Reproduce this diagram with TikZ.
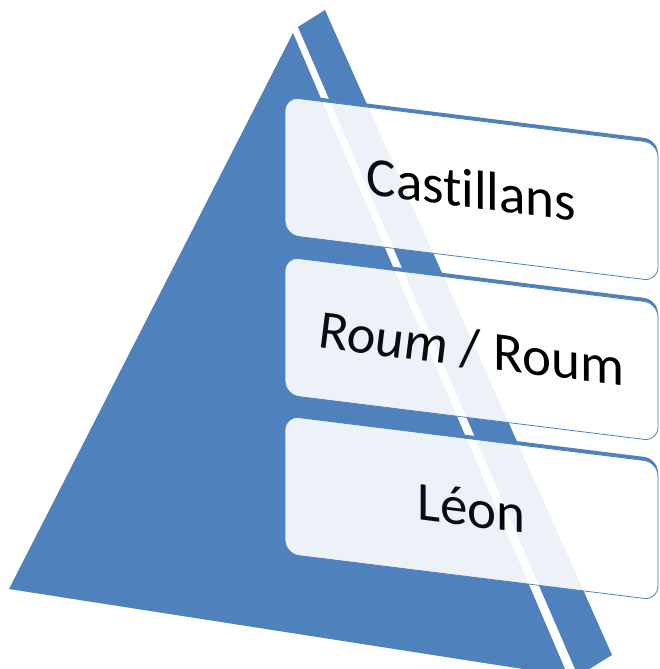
\documentclass[tikz,border=0pt]{standalone}
\usepackage{fontspec}
\setmainfont{Carlito}[Ligatures=NoCommon]
\usetikzlibrary{shadows}
\definecolor{pyrblue}{RGB}{79,129,189}
\def\tierslant{-0.124}
% the two faces of the pyramid
\def\pyramidfaces{%
  \fill[face] (298,27) -- (325,10) -- (612,655) -- (578,676) -- cycle;
  \fill[face] (293,33) -- (9,589) -- (568,676) -- cycle;}

\begin{document}
\begin{tikzpicture}[x=1pt,y=-1pt]
  \tikzstyle{face}=[fill=pyrblue,draw=none]
  \tikzstyle{tier}=[rectangle,rounded corners=14pt,minimum width=373pt,
    minimum height=138pt,inner sep=0pt,fill=white,draw=pyrblue,
    line width=0.8pt,yslant=\tierslant,font=\fontsize{55}{60}\selectfont,
    general shadow={fill=pyrblue,draw=none,shadow yshift=3.5pt}]

  \useasboundingbox (0,0) rectangle (659,669);
  \clip (0,0) rectangle (659,669);

  % Draw the pyramid: side face, then front face
  \pyramidfaces

  % Draw the tiers
  \foreach \name / \y / \txt in {1/189/Castillans,
    2/349/{\textit{Roum} / Roum}, 3/508/Léon}
  \node[tier] (tier-\name) at (471.5,\y) {\txt};

  % Let the pyramid show faintly through the tiers
  \begin{scope}[face/.append style={fill opacity=0.1}]
    \pyramidfaces
  \end{scope}
\end{tikzpicture}
\end{document}
